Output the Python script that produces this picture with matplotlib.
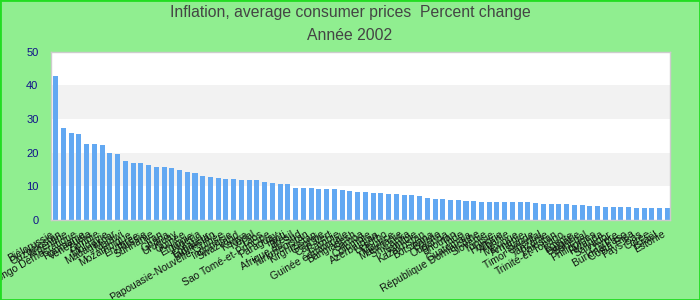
import matplotlib
matplotlib.use("Agg")
import matplotlib.pyplot as plt
from matplotlib.patches import Rectangle
import matplotlib.transforms as mtransforms

plt.rcParams['font.family'] = ['Liberation Sans', 'DejaVu Sans']

title_line1 = "Inflation, average consumer prices  Percent change"
title_line2 = "Année 2002"

countries = [
    "Biélorussie", "Ouzbékistan", "Argentine", "Congo Démocratique", "Roumanie",
    "Venezuela", "Zambie", "Moldavie", "Madagascar", "Malawi",
    "Mozambique", "Érythrée", "Russie", "Suriname", "Iran",
    "Ghana", "Uruguay", "Guinée", "Éthiopie", "Nigeria",
    "Équateur", "Tadjikistan", "Papouasie-Nouvelle-Guinée", "Indonésie", "Swaziland",
    "Kenya", "Népal", "Laos", "Sao Tomé-et-Principe", "Paraguay",
    "Haïti", "Brésil", "Afrique du Sud", "Turkménistan", "Kirghizistan",
    "Géorgie", "Cap-Vert", "Gambie", "Guinée équatoriale", "Bangladesh",
    "Samoa", "Colombie", "Azerbaïdjan", "Lesotho", "Maurice",
    "Mauritanie", "Sri Lanka", "Namibie", "Kazakhstan", "Botswana",
    "Bolivie", "Ouganda", "Bhoutan", "Inde", "Guatemala",
    "République Dominicaine", "Slovénie", "Tunisie", "Hongrie", "Albanie",
    "Mexique", "Arménie", "Islande", "Timor Oriental", "Tanzanie",
    "Pakistan", "Trinité-et-Tobago", "Égypte", "Bulgarie", "Sénégal",
    "Philippines", "Rwanda", "Salvador", "Chypre", "Burkina Faso",
    "Costa Rica", "Pays-Bas", "Corée", "Israël", "Estonie",
]

inflation = [
    42.8, 27.3, 25.8, 25.5, 22.6, 22.6, 22.3, 19.9, 19.6, 17.5,
    16.9, 16.9, 16.3, 15.7, 15.7, 15.4, 14.9, 14.3, 14.0, 13.1,
    12.8, 12.5, 12.2, 12.2, 11.9, 11.9, 11.9, 11.3, 11.0, 10.7,
    10.7, 9.5, 9.5, 9.5, 9.2, 9.2, 9.2, 8.9, 8.6, 8.3,
    8.3, 8.0, 8.0, 7.7, 7.7, 7.4, 7.4, 7.1, 6.5, 6.2,
    6.2, 5.9, 5.9, 5.6, 5.6, 5.3, 5.3, 5.3, 5.3, 5.3,
    5.3, 5.3, 5.0, 4.8, 4.8, 4.8, 4.8, 4.5, 4.5, 4.2,
    4.2, 3.9, 3.9, 3.9, 3.9, 3.6, 3.6, 3.6, 3.6, 3.6,
]

y_ticks = [0, 10, 20, 30, 40, 50]

fig = plt.figure(figsize=(7, 3), dpi=100, facecolor='#90ee90')
fig.patches.append(Rectangle((0, 0), 1, 1, transform=fig.transFigure,
                             facecolor='none', edgecolor='#22dd22', linewidth=2))

ax = fig.add_axes([51/700, 1-220/300, (670-51)/700, (220-51.7)/300])
ax.set_facecolor('white')

# alternating bands
for i in range(len(y_ticks) - 1):
    if i % 2 == 1:
        ax.axhspan(y_ticks[i], y_ticks[i+1], color='#f2f2f2', zorder=0, linewidth=0)

x = list(range(len(countries)))
ax.bar(x, inflation, width=0.65, color='#62a8f2', zorder=2)

ax.set_xlim(-0.6, len(countries) - 0.65)
ax.set_ylim(0, 50)
ax.set_yticks(y_ticks)
ax.set_yticklabels([str(t) for t in y_ticks], color='#10108a', fontsize=8)
ax.tick_params(axis='y', length=0, pad=9)
ax.set_xticks(x)
ax.set_xticklabels(countries, rotation=30, ha='right', va='top',
                   rotation_mode='anchor', fontsize=7.5, color='#111111')
ax.tick_params(axis='x', length=0, pad=3)
offset = mtransforms.ScaledTranslation(-5/100, -5/100, fig.dpi_scale_trans)
for lab in ax.get_xticklabels():
    lab.set_transform(lab.get_transform() + offset)

for s in ax.spines.values():
    s.set_color('#cccccc')
    s.set_linewidth(1)

fig.text(0.5, 1 - 12/300, title_line1, ha='center', va='center', fontsize=11.3, color='#444444')
fig.text(0.5, 1 - 35/300, title_line2, ha='center', va='center', fontsize=11.3, color='#444444')

fig.savefig('out.png', dpi=100, facecolor=fig.get_facecolor())
